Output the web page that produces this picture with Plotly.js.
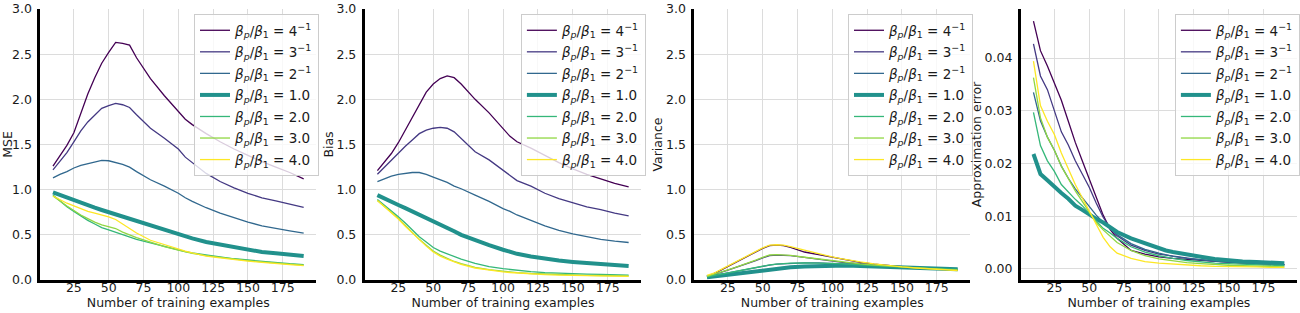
<!DOCTYPE html>
<html>
<head>
<meta charset="utf-8">
<script src="https://cdn.plot.ly/plotly-3.0.1.min.js"></script>
<style>html,body{margin:0;padding:0;background:#fff;}#chart{width:1300px;height:313px;}</style>
</head>
<body>
<div id="chart"></div>
<script>
// training examples
const N = [10,15,20,25,30,35,40,45,50,55,60,65,70,80,90,100,105,110,120,130,140,150,160,170,180,190];

const LABELS = [
  '<i>β</i><sub><i>p</i></sub>/<i>β</i><sub>1</sub> = 4<sup>−1</sup>',
  '<i>β</i><sub><i>p</i></sub>/<i>β</i><sub>1</sub> = 3<sup>−1</sup>',
  '<i>β</i><sub><i>p</i></sub>/<i>β</i><sub>1</sub> = 2<sup>−1</sup>',
  '<i>β</i><sub><i>p</i></sub>/<i>β</i><sub>1</sub> = 1.0',
  '<i>β</i><sub><i>p</i></sub>/<i>β</i><sub>1</sub> = 2.0',
  '<i>β</i><sub><i>p</i></sub>/<i>β</i><sub>1</sub> = 3.0',
  '<i>β</i><sub><i>p</i></sub>/<i>β</i><sub>1</sub> = 4.0'
];
const COLORS = ['#440154','#443983','#31688e','#21918c','#35b779','#90d743','#fde725'];
const WIDTHS = [1.3,1.3,1.3,4,1.3,1.3,1.3];

const YTITLES = ['MSE','Bias','Variance','Approximation error'];
const XTITLE = 'Number of training examples';

// MSE
const mse_q4 = [1.26,1.37,1.49,1.63,1.84,2.06,2.24,2.40,2.52,2.63,2.62,2.60,2.46,2.23,2.04,1.86,1.78,1.72,1.62,1.53,1.45,1.38,1.31,1.25,1.19,1.12];
const mse_t3 = [1.22,1.31,1.41,1.53,1.65,1.75,1.83,1.90,1.93,1.955,1.94,1.91,1.83,1.68,1.57,1.45,1.36,1.30,1.18,1.09,1.02,0.96,0.91,0.875,0.84,0.805];
const mse_h2 = [1.13,1.17,1.20,1.24,1.27,1.29,1.31,1.325,1.32,1.30,1.28,1.25,1.20,1.11,1.04,0.96,0.91,0.87,0.80,0.74,0.69,0.64,0.60,0.57,0.545,0.52];
const mse_1  = [0.97,0.94,0.91,0.88,0.855,0.83,0.80,0.775,0.75,0.725,0.70,0.68,0.655,0.61,0.56,0.50,0.48,0.46,0.42,0.39,0.36,0.335,0.31,0.295,0.28,0.265];
const mse_2  = [0.94,0.87,0.81,0.76,0.71,0.66,0.62,0.58,0.555,0.53,0.50,0.475,0.45,0.41,0.37,0.33,0.315,0.30,0.275,0.255,0.235,0.22,0.205,0.19,0.18,0.17];
const mse_3  = [0.93,0.87,0.82,0.77,0.72,0.68,0.64,0.61,0.59,0.57,0.53,0.50,0.47,0.42,0.37,0.33,0.31,0.295,0.27,0.25,0.235,0.215,0.20,0.185,0.175,0.165];
const mse_4  = [0.93,0.89,0.85,0.82,0.79,0.76,0.74,0.72,0.70,0.67,0.62,0.57,0.52,0.44,0.39,0.34,0.32,0.30,0.265,0.245,0.225,0.21,0.195,0.18,0.17,0.16];

// Bias
const bias_q4 = [1.21,1.30,1.40,1.52,1.66,1.80,1.95,2.08,2.17,2.23,2.26,2.24,2.17,2.00,1.85,1.68,1.59,1.53,1.46,1.38,1.30,1.23,1.17,1.12,1.07,1.03];
const bias_t3 = [1.17,1.25,1.33,1.40,1.48,1.55,1.62,1.66,1.68,1.69,1.68,1.64,1.57,1.42,1.33,1.21,1.15,1.10,1.04,0.96,0.90,0.855,0.81,0.78,0.74,0.71];
const bias_h2 = [1.09,1.12,1.15,1.17,1.18,1.19,1.19,1.17,1.14,1.11,1.08,1.04,1.01,0.94,0.87,0.79,0.76,0.72,0.66,0.60,0.55,0.51,0.48,0.45,0.43,0.415];
const bias_1  = [0.94,0.90,0.86,0.83,0.795,0.76,0.72,0.69,0.655,0.615,0.575,0.54,0.50,0.44,0.385,0.335,0.31,0.29,0.26,0.235,0.215,0.20,0.185,0.175,0.165,0.155];
const bias_2  = [0.89,0.83,0.76,0.70,0.63,0.555,0.48,0.42,0.36,0.32,0.29,0.26,0.23,0.185,0.148,0.125,0.115,0.105,0.092,0.082,0.074,0.07,0.066,0.062,0.058,0.055];
const bias_3  = [0.88,0.82,0.75,0.68,0.60,0.525,0.45,0.385,0.32,0.275,0.24,0.205,0.18,0.14,0.115,0.095,0.088,0.082,0.072,0.065,0.06,0.055,0.052,0.05,0.048,0.046];
const bias_4  = [0.88,0.815,0.745,0.675,0.595,0.52,0.445,0.375,0.31,0.265,0.23,0.198,0.172,0.133,0.108,0.09,0.083,0.077,0.067,0.06,0.055,0.05,0.047,0.044,0.042,0.04];

// Variance
const var_q4 = [0.04,0.07,0.11,0.15,0.19,0.23,0.27,0.31,0.35,0.38,0.385,0.38,0.36,0.31,0.28,0.25,0.235,0.22,0.195,0.175,0.16,0.145,0.135,0.125,0.115,0.11];
const var_t3 = [0.04,0.06,0.085,0.11,0.135,0.16,0.185,0.215,0.245,0.27,0.275,0.275,0.27,0.25,0.23,0.21,0.20,0.19,0.18,0.165,0.155,0.145,0.135,0.125,0.12,0.11];
const var_h2 = [0.035,0.05,0.065,0.08,0.095,0.11,0.125,0.14,0.155,0.165,0.175,0.18,0.185,0.19,0.19,0.185,0.18,0.175,0.165,0.155,0.145,0.14,0.135,0.13,0.125,0.12];
const var_1  = [0.03,0.04,0.05,0.06,0.07,0.08,0.09,0.10,0.11,0.12,0.125,0.13,0.14,0.15,0.155,0.16,0.16,0.16,0.155,0.15,0.145,0.14,0.135,0.13,0.125,0.12];
const var_2  = [0.035,0.05,0.066,0.082,0.097,0.112,0.127,0.142,0.156,0.167,0.176,0.182,0.186,0.19,0.19,0.186,0.182,0.176,0.166,0.156,0.147,0.14,0.134,0.128,0.123,0.118];
const var_3  = [0.04,0.062,0.087,0.112,0.137,0.163,0.19,0.22,0.25,0.277,0.282,0.28,0.273,0.252,0.232,0.214,0.204,0.194,0.178,0.164,0.153,0.143,0.134,0.125,0.118,0.11];
const var_4  = [0.05,0.075,0.115,0.155,0.195,0.235,0.275,0.315,0.355,0.385,0.39,0.385,0.37,0.33,0.29,0.255,0.24,0.225,0.2,0.178,0.16,0.145,0.133,0.122,0.113,0.105];

// Approximation error
const app_q4 = [0.047,0.0414,0.0385,0.0352,0.032,0.028,0.024,0.0205,0.017,0.0135,0.0102,0.0075,0.0058,0.0035,0.0028,0.0023,0.0021,0.002,0.0018,0.0016,0.0014,0.0012,0.0011,0.001,0.0009,0.0008];
const app_t3 = [0.0427,0.0366,0.034,0.030,0.026,0.0235,0.0205,0.018,0.0155,0.0125,0.0098,0.0078,0.0063,0.0045,0.0035,0.0028,0.0026,0.0024,0.002,0.0017,0.0015,0.0013,0.0011,0.001,0.0009,0.0008];
const app_h2 = [0.0335,0.0281,0.025,0.0225,0.0195,0.0172,0.0152,0.0135,0.0118,0.0102,0.0088,0.0076,0.0065,0.0048,0.0037,0.003,0.0027,0.0024,0.002,0.0017,0.0015,0.0013,0.0011,0.001,0.0009,0.0008];
const app_1  = [0.0218,0.018,0.0168,0.0155,0.0144,0.0133,0.012,0.0112,0.0103,0.0095,0.0088,0.0079,0.007,0.0058,0.0048,0.0039,0.0035,0.0032,0.0027,0.0023,0.0019,0.0016,0.0014,0.0013,0.0012,0.0011];
const app_2  = [0.0297,0.0234,0.0205,0.0185,0.016,0.0145,0.0132,0.012,0.0105,0.009,0.0077,0.0068,0.0058,0.0042,0.0032,0.0025,0.0022,0.002,0.0016,0.0013,0.0011,0.001,0.0009,0.0008,0.0007,0.0006];
const app_3  = [0.0363,0.0287,0.025,0.0225,0.0195,0.017,0.0148,0.0128,0.0108,0.0088,0.0074,0.0062,0.005,0.0035,0.0025,0.0019,0.0017,0.0015,0.0012,0.001,0.0008,0.0007,0.0006,0.0005,0.0005,0.0004];
const app_4  = [0.0394,0.031,0.028,0.0255,0.022,0.019,0.016,0.0135,0.011,0.0088,0.006,0.0042,0.003,0.002,0.0014,0.0011,0.001,0.0009,0.0007,0.0006,0.0005,0.0005,0.0004,0.0004,0.0003,0.0003];

const PANELS = [
  [mse_q4,mse_t3,mse_h2,mse_1,mse_2,mse_3,mse_4],
  [bias_q4,bias_t3,bias_h2,bias_1,bias_2,bias_3,bias_4],
  [var_q4,var_t3,var_h2,var_1,var_2,var_3,var_4],
  [app_q4,app_t3,app_h2,app_1,app_2,app_3,app_4]
];

const W = 1300, H = 313;
// plot-area pixel extents per panel
const XPIX = [[40.5,316.7],[365.4,642.2],[695.5,971.7],[1022.5,1298.9]];
const YPIX = [9, 280];
const LEGPIX = [[194.3,14],[521.7,14],[849.3,14],[1176.7,14]];

const FONT = 'DejaVu Sans, sans-serif';
const TXT = '#1a1a1a';
const FS = 12.5;

const traces = [];
PANELS.forEach((series, p) => {
  const ax = p === 0 ? '' : String(p + 1);
  series.forEach((ys, k) => {
    traces.push({
      type: 'scatter', mode: 'lines',
      x: N, y: ys,
      xaxis: 'x' + ax, yaxis: 'y' + ax,
      name: LABELS[k],
      legend: 'legend' + ax,
      legendgroup: 'p' + p + 'k' + k,
      line: {color: COLORS[k], width: WIDTHS[k]},
      hoverinfo: 'skip'
    });
  });
});

const layout = {
  width: W, height: H,
  margin: {l: 0, r: 0, t: 0, b: 0},
  paper_bgcolor: '#fff', plot_bgcolor: '#fff',
  font: {family: FONT, size: FS, color: TXT},
  showlegend: true
};

for (let p = 0; p < 4; p++) {
  const ax = p === 0 ? '' : String(p + 1);
  const isApp = p === 3;
  layout['xaxis' + ax] = {
    domain: [XPIX[p][0] / W, XPIX[p][1] / W],
    anchor: 'y' + ax,
    range: [1, 199],
    tickvals: [25, 50, 75, 100, 125, 150, 175],
    ticks: '', ticklabelstandoff: -6,
    showgrid: true, gridcolor: '#dcdcdc', gridwidth: 1,
    zeroline: false,
    showline: true, linecolor: '#000', linewidth: 3,
    tickfont: {family: FONT, size: FS, color: TXT},
    title: {text: XTITLE, font: {family: FONT, size: FS, color: TXT}, standoff: 4}
  };
  layout['yaxis' + ax] = {
    domain: [1 - YPIX[1] / H, 1 - YPIX[0] / H],
    anchor: 'x' + ax,
    range: isApp ? [-0.0021, 0.0493] : [0, 3.0],
    tickvals: isApp ? [0, 0.01, 0.02, 0.03, 0.04] : [0, 0.5, 1.0, 1.5, 2.0, 2.5, 3.0],
    tickformat: isApp ? '.2f' : '.1f',
    ticks: 'outside', ticklen: 3, tickcolor: 'rgba(0,0,0,0)',
    showgrid: true, gridcolor: '#dcdcdc', gridwidth: 1,
    zeroline: false,
    showline: true, linecolor: '#000', linewidth: 3,
    tickfont: {family: FONT, size: FS, color: TXT},
    title: {text: YTITLES[p], font: {family: FONT, size: FS, color: TXT}, standoff: 1}
  };
  layout['legend' + ax] = {
    x: LEGPIX[p][0] / W, y: 1 - LEGPIX[p][1] / H,
    xanchor: 'left', yanchor: 'top',
    xref: 'paper', yref: 'paper',
    bgcolor: 'rgba(255,255,255,0.8)',
    bordercolor: '#cccccc', borderwidth: 1,
    font: {family: FONT, size: 13.5, color: TXT},
    traceorder: 'grouped', tracegroupgap: 1,
    itemwidth: 30
  };
}

Plotly.newPlot('chart', traces, layout, {displayModeBar: false, staticPlot: true});
</script>
</body>
</html>
